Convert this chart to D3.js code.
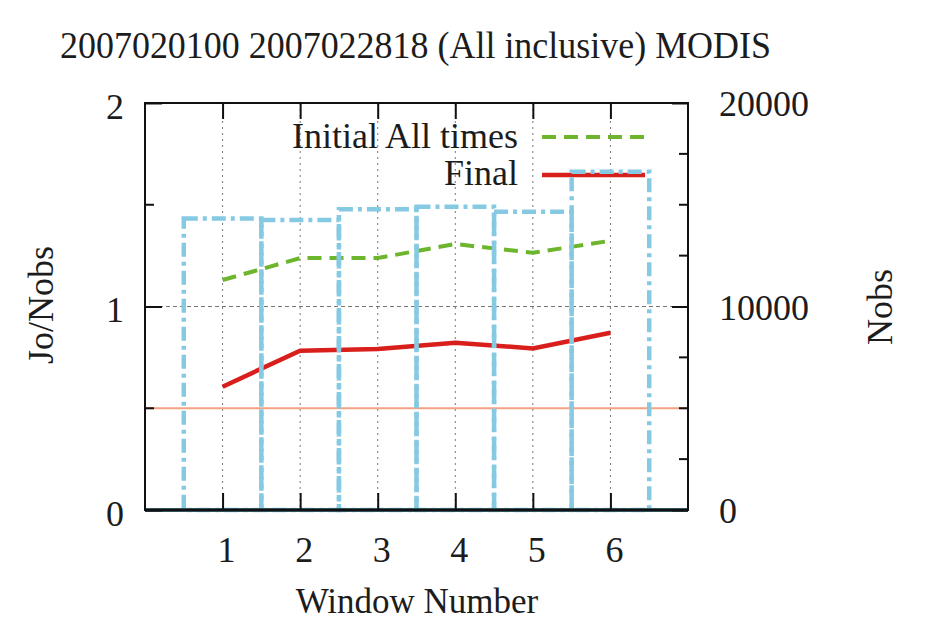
<!DOCTYPE html>
<html><head><meta charset="utf-8">
<script src="https://d3js.org/d3.v7.min.js"></script>
<style>
body{margin:0;background:#fff}
svg{display:block}
text{font-family:"Liberation Serif","Times New Roman",serif;fill:#1c1c1c}
</style>
</head><body><svg width="931" height="622"></svg>
<script>
// ---- data ----
const windows = [1, 2, 3, 4, 5, 6];
const initialAllTimes = [1.13, 1.238, 1.238, 1.307, 1.264, 1.323];
const finalVals = [0.606, 0.783, 0.791, 0.822, 0.794, 0.871];
const nobs = [14330, 14250, 14780, 14900, 14660, 16620];
const xTickValues = [1, 2, 3, 4, 5, 6];
const leftTickValues = [0, 1, 2];
const leftMinorTicks = [0.5, 1.5];
const rightTickValues = [0, 10000, 20000];
const rightMinorTicks = [2500, 5000, 7500, 12500, 15000, 17500];
const refValue = 0.5;
const titleText = "2007020100 2007022818 (All inclusive) MODIS";
const legendLabels = ["Initial All times", "Final"];

// ---- layout ----
const L = 145, R = 688, T = 103, B = 510;
const svg = d3.select("svg");
const x = d3.scaleLinear().domain([0, 7]).range([L, R]);
const y = d3.scaleLinear().domain([0, 2]).range([B, T]);
const y2 = d3.scaleLinear().domain([0, 20000]).range([B, T]);

const cGreen = "#6cb52d", cRed = "#d91f1c", cBlue = "#86c9e3", cRef = "#f4a282";

// grid
svg.append("g").selectAll("line").data(xTickValues).join("line")
  .attr("x1", d => x(d)).attr("x2", d => x(d)).attr("y1", T).attr("y2", B)
  .attr("stroke", "#777").attr("stroke-width", 1).attr("stroke-dasharray", "2,4");
svg.append("line").attr("x1", L).attr("x2", R).attr("y1", y(1)).attr("y2", y(1))
  .attr("stroke", "#777").attr("stroke-width", 1).attr("stroke-dasharray", "4,3");

// reference line
svg.append("line").attr("x1", L).attr("x2", R).attr("y1", y(refValue)).attr("y2", y(refValue))
  .attr("stroke", cRef).attr("stroke-width", 2);

// lines
const lineInit = d3.line().x((d, i) => x(windows[i])).y(d => y(d));
svg.append("path").datum(initialAllTimes).attr("d", lineInit)
  .attr("fill", "none").attr("stroke", cGreen).attr("stroke-width", 4).attr("stroke-dasharray", "14,8");
svg.append("path").datum(finalVals).attr("d", lineInit)
  .attr("fill", "none").attr("stroke", cRed).attr("stroke-width", 4.5);

// legend
const lg = svg.append("g");
lg.append("text").attr("x", 518).attr("y", 148).attr("text-anchor", "end")
  .attr("font-size", 36).text(legendLabels[0]);
lg.append("line").attr("x1", 542).attr("x2", 645).attr("y1", 137).attr("y2", 137)
  .attr("stroke", cGreen).attr("stroke-width", 4).attr("stroke-dasharray", "14,8");
lg.append("text").attr("x", 518).attr("y", 185).attr("text-anchor", "end")
  .attr("font-size", 36).text(legendLabels[1]);
lg.append("line").attr("x1", 542).attr("x2", 645).attr("y1", 175).attr("y2", 175)
  .attr("stroke", cRed).attr("stroke-width", 4.5);

// Nobs boxes
svg.append("g").selectAll("rect").data(nobs).join("rect")
  .attr("x", (d, i) => x(windows[i] - 0.5))
  .attr("width", (d, i) => x(windows[i] + 0.5) - x(windows[i] - 0.5))
  .attr("y", d => y2(d)).attr("height", d => B - y2(d))
  .attr("fill", "none").attr("stroke", cBlue).attr("stroke-width", 4.5)
  .attr("stroke-dasharray", "14,5,4,5");

// bottom dark line
svg.append("line").attr("x1", L).attr("x2", R).attr("y1", B).attr("y2", B)
  .attr("stroke", "#30505c").attr("stroke-width", 4);

// border
svg.append("rect").attr("x", L).attr("y", T).attr("width", R - L).attr("height", B - T)
  .attr("fill", "none").attr("stroke", "#111").attr("stroke-width", 2);

// axes
const fs = 36;
const gL = svg.append("g").attr("transform", `translate(${L},0)`)
  .call(d3.axisLeft(y).tickValues(leftTickValues).tickSize(-17).tickPadding(21).tickFormat(d3.format("d")));
const gR = svg.append("g").attr("transform", `translate(${R},0)`)
  .call(d3.axisRight(y2).tickValues(rightTickValues).tickSize(-16).tickPadding(31).tickFormat(d3.format("d")));
const gB = svg.append("g").attr("transform", `translate(0,${B})`)
  .call(d3.axisBottom(x).tickValues(xTickValues).tickSize(-17).tickPadding(26).tickFormat(d3.format("d")));
const gT = svg.append("g").attr("transform", `translate(0,${T})`)
  .call(d3.axisTop(x).tickValues(xTickValues).tickSize(-16).tickFormat(""));
[gL, gR, gB, gT].forEach(g => {
  g.select(".domain").remove();
  g.selectAll(".tick line").attr("stroke", "#111").attr("stroke-width", 2);
  g.selectAll("text").attr("font-size", fs).attr("font-family", "Liberation Serif, serif").attr("fill", "#1c1c1c");
});
gL.selectAll("text").attr("dy", "0.42em");
gR.selectAll("text").attr("dy", "0.36em");
gB.selectAll("text").attr("dx", 3.5);

// minor ticks
svg.append("g").selectAll("line").data(leftMinorTicks).join("line")
  .attr("x1", L).attr("x2", L + 9).attr("y1", d => y(d)).attr("y2", d => y(d))
  .attr("stroke", "#111").attr("stroke-width", 2);
svg.append("g").selectAll("line").data(rightMinorTicks).join("line")
  .attr("x1", R - 9).attr("x2", R).attr("y1", d => y2(d)).attr("y2", d => y2(d))
  .attr("stroke", "#111").attr("stroke-width", 2);

// title & labels
svg.append("text").attr("x", 60).attr("y", 58).attr("font-size", 38)
  .attr("textLength", 711).attr("lengthAdjust", "spacingAndGlyphs").text(titleText);
svg.append("text").attr("x", 417).attr("y", 613).attr("text-anchor", "middle")
  .attr("font-size", 35).text("Window Number");
svg.append("text").attr("transform", "translate(53,305) rotate(-90)").attr("text-anchor", "middle")
  .attr("font-size", fs).text("Jo/Nobs");
svg.append("text").attr("transform", "translate(892,307) rotate(-90)").attr("text-anchor", "middle")
  .attr("font-size", fs).text("Nobs");
</script>
</body></html>
